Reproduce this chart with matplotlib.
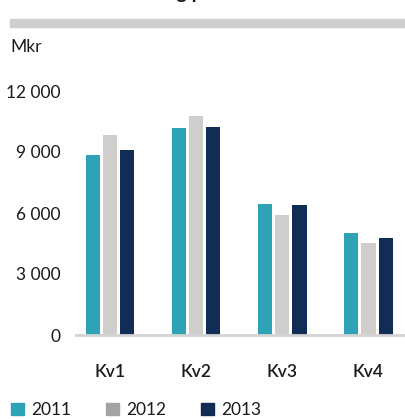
import numpy as np
from matplotlib import pyplot as plt
from matplotlib.patches import Patch

# data (Mkr)
quarters = ["Kv1", "Kv2", "Kv3", "Kv4"]
years = ["2011", "2012", "2013"]
v2011 = [8850, 10200, 6450, 5000]
v2012 = [9850, 10750, 5900, 4530]
v2013 = [9100, 10250, 6400, 4780]
ticks = [0, 3000, 6000, 9000, 12000]
tick_labels = ["0", "3 000", "6 000", "9 000", "12 000"]

colors = ["#2ea3b5", "#cfcecc", "#112d55"]
legend_colors = ["#2ea3b5", "#a3a3a3", "#112d55"]
txt = "#1a1a1a"

plt.rcParams['font.family'] = ['Lato', 'DejaVu Sans']
fs = 12.5

W, H = 406, 419
fig = plt.figure(figsize=(W / 100, H / 100), dpi=100)
ax = fig.add_axes([76 / W, 84 / H, 1 - 76 / W, (335 - 91) / H])

x = np.arange(len(quarters))
bw = 0.163
step = 0.198
for i, vals in enumerate([v2011, v2012, v2013]):
    ax.bar(x + (i - 1) * step, vals, width=bw, color=colors[i], zorder=2)

ax.set_xlim(-0.4, 3.436)
ax.set_ylim(0, 12000)
ax.set_yticks(ticks)
ax.set_yticklabels(tick_labels, fontsize=fs, color=txt)
ax.set_xticks(x)
ax.set_xticklabels(quarters, fontsize=fs, color=txt, fontweight='semibold')
ax.tick_params(axis='y', length=0, pad=11)
ax.tick_params(axis='x', length=0, pad=21)
for s in ['top', 'right', 'left']:
    ax.spines[s].set_visible(False)
ax.spines['bottom'].set_color('#d3d3d3')
ax.spines['bottom'].set_linewidth(2)
ax.spines['bottom'].set_zorder(3)

# title, cut off at the top edge so only descenders show
fig.text(0.455, 1 + 1 / H, "Omsättning per kvartal", ha='center', va='baseline',
         fontsize=14, fontweight='bold', color=txt)
# grey band under the title
fig.add_artist(plt.Rectangle((10 / W, 1 - 27 / H), 1, 8 / H,
                             transform=fig.transFigure, color='#d0cfcd'))
fig.text(10 / W, 1 - 47 / H, "Mkr", ha='left', va='center', fontsize=fs, color=txt)

handles = [Patch(color=c) for c in legend_colors]
fig.legend(handles, years, loc='lower left', bbox_to_anchor=(10 / W - 0.035, -0.035),
           ncol=3, frameon=False, fontsize=fs, handlelength=0.75, handleheight=0.75,
           handletextpad=0.4, columnspacing=2.0, labelcolor=txt)

fig.savefig("out.png", dpi=100)
